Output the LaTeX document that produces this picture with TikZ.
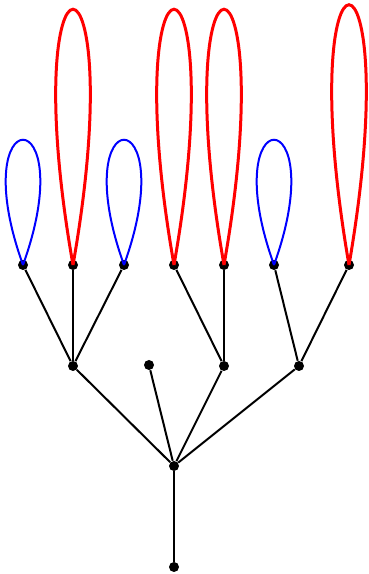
\documentclass[tikz,border=0pt]{standalone}
\usepackage{tikz}
\begin{document}
\begin{tikzpicture}[x=0.5pt, y=0.5pt,
    dot/.style={circle, fill=black, inner sep=0pt, minimum size=5pt},
    edge/.style={draw=black, line width=1pt},
    bloop/.style={draw=blue, line width=1pt},
    rloop/.style={draw=red, line width=1.5pt}
  ]
  \useasboundingbox (0,0) rectangle (369,574);

  % root and centre
  \node[dot] (root) at (174, 7) {};
  \node[dot] (ctr)  at (174, 108) {};

  % second level
  \node[dot] (a) at (73, 208) {};
  \node[dot] (b) at (149, 209) {};
  \node[dot] (d) at (224, 208) {};
  \node[dot] (e) at (299, 208) {};

  % leaves
  \node[dot] (a1) at (23, 309) {};
  \node[dot] (a2) at (73, 309) {};
  \node[dot] (a3) at (124, 309) {};
  \node[dot] (d1) at (174, 309) {};
  \node[dot] (d2) at (224, 309) {};
  \node[dot] (e1) at (274, 309) {};
  \node[dot] (e2) at (349, 309) {};

  \draw[edge] (root) -- (ctr);
  \foreach \n in {a, b, d, e}
    \draw[edge] (ctr) -- (\n);
  \foreach \n in {a1, a2, a3}
    \draw[edge] (a) -- (\n);
  \foreach \n in {d1, d2}
    \draw[edge] (d) -- (\n);
  \foreach \n in {e1, e2}
    \draw[edge] (e) -- (\n);

  % loops
  \foreach \n in {a1, a3, e1}
    \draw[bloop] (\n.center) .. controls +(-60, 167) and +(60, 167) .. (\n.center);
  \foreach \n in {a2, d1, d2}
    \draw[rloop] (\n.center) .. controls +(-60, 341) and +(60, 341) .. (\n.center);
  \draw[rloop] (e2.center) .. controls +(-60, 347) and +(60, 347) .. (e2.center);
\end{tikzpicture}
\end{document}
